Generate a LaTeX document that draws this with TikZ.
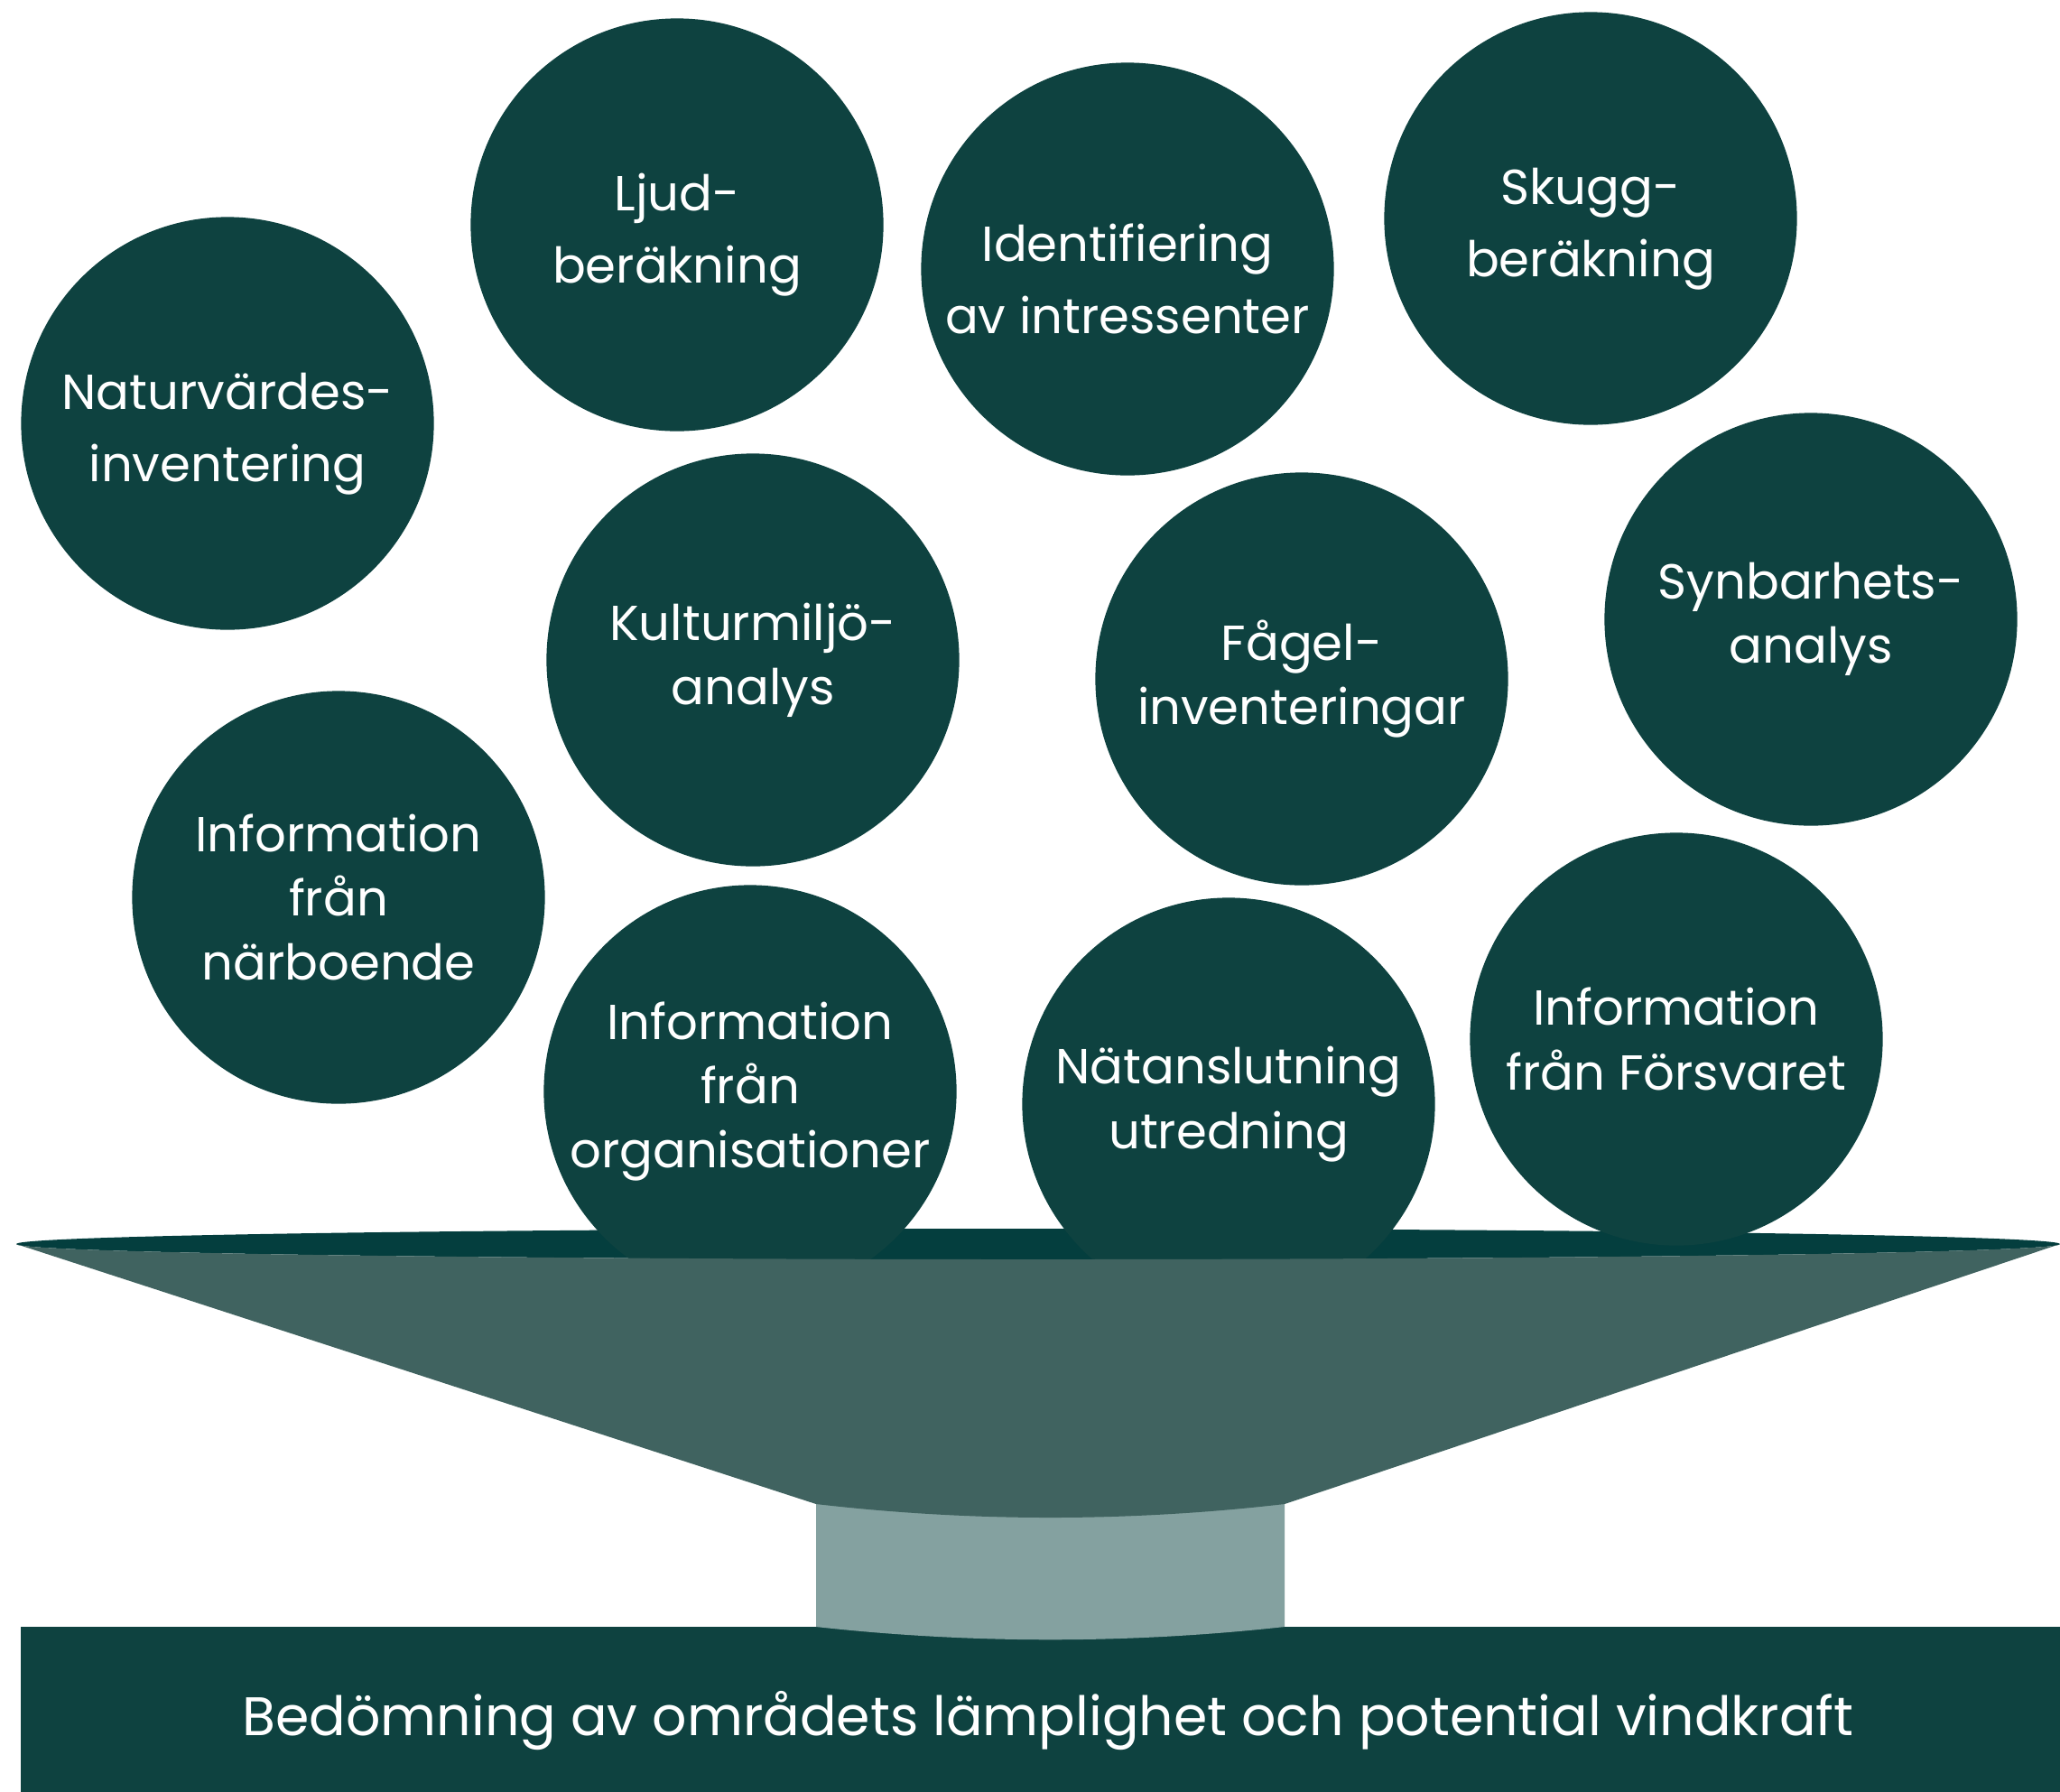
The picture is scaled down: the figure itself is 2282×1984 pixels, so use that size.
\documentclass[tikz,border=0pt]{standalone}
\usepackage{fontspec}
\setmainfont{Poppins}
\usepackage{xcolor}
\definecolor{bubblegreen}{RGB}{14,66,64}
\definecolor{rimgreen}{RGB}{4,62,62}
\definecolor{funnelgreen}{RGB}{64,99,96}
\definecolor{neckgreen}{RGB}{132,161,160}

\begin{document}
\begin{tikzpicture}[x=0.01cm,y=-0.01cm,
	bubble/.style={circle,fill=bubblegreen,text=white,minimum size=4.57cm,inner sep=0pt,align=center,font=\fontsize{15.5}{20.3}\selectfont},
	wide/.style={font=\fontsize{15.5}{22.9}\selectfont,text height=41pt},
	bartext/.style={text=white,inner sep=0pt,font=\fontsize{17.1}{21}\selectfont}]
\useasboundingbox(0,0)rectangle(2282,1984);
\fill[bubblegreen](23,1802)rectangle(2290,1990);
\node[bartext,anchor=base](bed)at(1161,1922){Bedömning av områdets lämplighet och potential vindkraft};
\fill[neckgreen](904,1660)--(1423,1660)--(1423,1802)..controls(1250,1821)and(1077,1821)..(904,1802)--cycle;
\fill[rimgreen](1150,1378)ellipse[x radius=1132,y radius=17];
\node[bubble,wide](natur)at(252,469){Naturvärdes-\\inventering};
\node[bubble,wide](ljud)at(750,249){Ljud-\\beräkning};
\node[bubble,wide](ident)at(1249,298){Identifiering\\av intressenter};
\node[bubble,wide](skugg)at(1762,242){Skugg-\\beräkning};
\node[bubble](kultur)at(834,731){Kulturmiljö-\\analys};
\node[bubble](fagel)at(1442,752){Fågel-\\inventeringar};
\node[bubble](synbar)at(2006,686){Synbarhets-\\analys};
\node[bubble](narboende)at(375,994){Information\\från\\närboende};
\node[bubble](org)at(831,1209){Information\\från\\organisationer};
\node[bubble](natans)at(1361,1223){Nätanslutning\\utredning};
\node[bubble](forsvar)at(1857,1151){Information\\från Försvaret};
\fill[funnelgreen]plot[domain=180:0,samples=80]({1150+1132*cos(\x)},{1378+17*sin(\x)})--(1423,1666)..controls(1250,1686)and(1077,1686)..(904,1666)--cycle;
\end{tikzpicture}
\end{document}
